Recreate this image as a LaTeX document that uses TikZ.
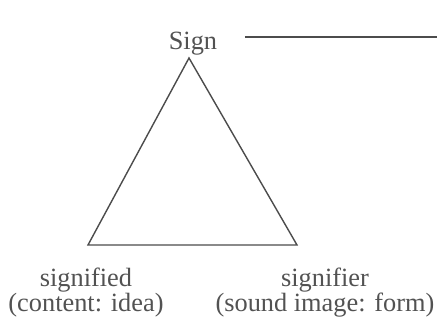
\documentclass[tikz,border=0pt]{standalone}
\usepackage{fontspec}
\setmainfont{Liberation Serif}
\usetikzlibrary{positioning}

\begin{document}
\begin{tikzpicture}[x=0.02cm, y=-0.02cm, line width=0.8pt]
    \useasboundingbox (0,0) rectangle (437,320);
    \tikzset{lbl/.style={text=black!68, font=\fontsize{15}{14.5}\selectfont, inner sep=0pt, align=center, anchor=base}}
    % triangle corners
    \coordinate (apex) at (189,58);
    \coordinate (sd) at (88,245);
    \coordinate (sr) at (297,245);
    \draw[black!70] (apex) -- (sd) -- (sr) -- cycle;
    % labels
    \node[lbl] (sign) at (193,50) {Sign};
    \node[lbl] (signified) at (86,312) {signified\\(content: idea)};
    \node[lbl] (signifier) at (325,312) {signifier\\(sound image: form)};
    % line off to the right
    \coordinate (rend) at (437,37);
    \draw[black!70] (sign.east |- rend) ++(27,0) -- (rend);
\end{tikzpicture}
\end{document}
